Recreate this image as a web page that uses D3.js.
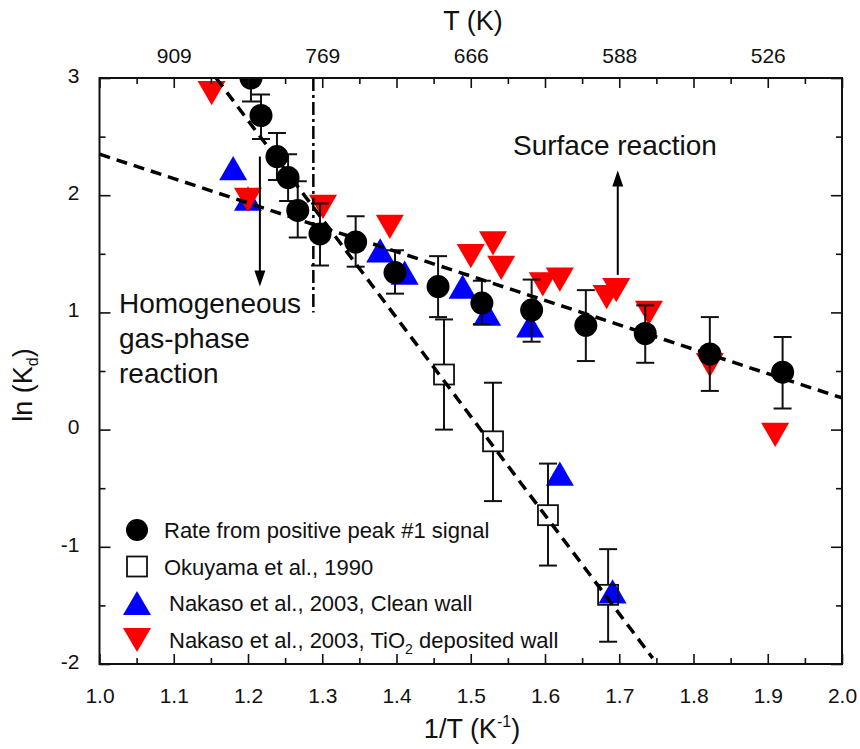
<!DOCTYPE html>
<html><head><meta charset="utf-8">
<script src="https://cdn.jsdelivr.net/npm/d3@7"></script>
<style>
body{margin:0;background:#fff}
text{font-family:"Liberation Sans",Arial,sans-serif;fill:#111}
</style>
</head><body>
<svg id="c" width="860" height="749"></svg>
<script>
// ---- data ----
const rateX  = [1.204,1.2175,1.239,1.254,1.267,1.297,1.345,1.398,1.456,1.515,1.582,1.655,1.735,1.822,1.920];
const rateY  = [3.00, 2.68, 2.33, 2.15, 1.87, 1.67, 1.60, 1.34, 1.22, 1.08, 1.02, 0.89, 0.82, 0.645,0.49];
const rateHi = [3.20, 2.86, 2.53, 2.35, 2.12, 1.93, 1.82, 1.53, 1.48, 1.27, 1.28, 1.19, 1.06, 0.96, 0.79];
const rateLo = [2.80, 2.48, 2.13, 1.95, 1.64, 1.40, 1.39, 1.16, 0.96, 0.90, 0.75, 0.585,0.57, 0.33, 0.18];

const okuX  = [1.464, 1.530, 1.604, 1.685];
const okuY  = [0.47, -0.10, -0.73, -1.41];
const okuHi = [0.94,  0.40, -0.29, -1.02];
const okuLo = [0.00, -0.61, -1.16, -1.81];

const cleanX = [1.180, 1.200, 1.378, 1.411, 1.489, 1.522, 1.580, 1.620, 1.691];
const cleanY = [2.23,  1.97,  1.53,  1.34,  1.22,  0.99,  0.89, -0.375, -1.38];

const tioX = [1.151, 1.200, 1.301, 1.391, 1.500, 1.530, 1.541, 1.597, 1.620, 1.683, 1.696, 1.740, 1.822, 1.910];
const tioY = [2.87,  1.96,  1.90,  1.73,  1.48,  1.59,  1.38,  1.24,  1.28,  1.13,  1.19,  0.995, 0.55, -0.045];

const surfaceFit = [[1.0, 2.35], [2.0, 0.27]];
const gasFit     = [[1.157, 3.0], [1.745, -1.95]];
const boundaryX  = 1.288, boundaryY = [3.0, 1.0];

const xMajor = [1.0,1.1,1.2,1.3,1.4,1.5,1.6,1.7,1.8,1.9,2.0];
const xMinor = [1.05,1.15,1.25,1.35,1.45,1.55,1.65,1.75,1.85,1.95];
const yMajor = [-2,-1,0,1,2,3];
const yMinor = [-1.5,-0.5,0.5,1.5,2.5];
const topTickPos = [1.1,1.3,1.5,1.7,1.9];
const topTickLabels = ["909","769","666","588","526"];

const legendLabels = ["Rate from positive peak #1 signal","Okuyama et al., 1990","Nakaso et al., 2003, Clean wall","Nakaso et al., 2003, TiO"];

// annotations (data coords)
const downArrow = {x:1.216, y0:2.33, y1:1.22};
const upArrow   = {x:1.698, y0:1.32, y1:2.21};

// ---- chart ----
const svg = d3.select("#c");
const L=99.5, R=842, T=78, B=664;
const x = d3.scaleLinear([1,2],[L,R]);
const y = d3.scaleLinear([-2,3],[B,T]);

svg.append("clipPath").attr("id","clip").append("rect")
  .attr("x",L).attr("y",T).attr("width",R-L).attr("height",B-T);

const gPlot = svg.append("g").attr("clip-path","url(#clip)");

const triUp = (s)=>{const h=s*Math.sqrt(3)/2;return `M0,${-h/2}L${s/2},${h/2}L${-s/2},${h/2}Z`;};
const triDown = (s)=>{const h=s*Math.sqrt(3)/2;return `M0,${h/2}L${s/2},${-h/2}L${-s/2},${-h/2}Z`;};
const TRI=28, CR=11.5, SQ=20;

// blue triangles
gPlot.selectAll(".cl").data(cleanX).join("path")
  .attr("d",triUp(TRI)).attr("fill","#0000ff")
  .attr("transform",(d,i)=>`translate(${x(d)},${y(cleanY[i])})`);
// red triangles
gPlot.selectAll(".ti").data(tioX).join("path")
  .attr("d",triDown(TRI)).attr("fill","#ff0000")
  .attr("transform",(d,i)=>`translate(${x(d)},${y(tioY[i])})`);

function errBars(g, xs, ys, hi, lo, gap){
  xs.forEach((xv,i)=>{
    const px=x(xv), py=y(ys[i]), ph=y(hi[i]), pl=y(lo[i]);
    const segs=[[ph,py-gap],[py+gap,pl]];
    segs.forEach(s=>{ if(s[1]>s[0]) g.append("line").attr("x1",px).attr("x2",px).attr("y1",s[0]).attr("y2",s[1]).attr("stroke","#111").attr("stroke-width",2);});
    [ph,pl].forEach(c=>g.append("line").attr("x1",px-9).attr("x2",px+9).attr("y1",c).attr("y2",c).attr("stroke","#111").attr("stroke-width",2));
  });
}
errBars(gPlot, rateX, rateY, rateHi, rateLo, 0);
gPlot.selectAll(".rt").data(rateX).join("circle")
  .attr("cx",d=>x(d)).attr("cy",(d,i)=>y(rateY[i])).attr("r",CR).attr("fill","#000");

errBars(gPlot, okuX, okuY, okuHi, okuLo, SQ/2);
gPlot.selectAll(".ok").data(okuX).join("rect")
  .attr("x",d=>x(d)-SQ/2).attr("y",(d,i)=>y(okuY[i])-SQ/2).attr("width",SQ).attr("height",SQ)
  .attr("fill","none").attr("stroke","#111").attr("stroke-width",1.8);

// fits
const line = d3.line().x(d=>x(d[0])).y(d=>y(d[1]));
[surfaceFit, gasFit].forEach(f=>gPlot.append("path").attr("d",line(f))
  .attr("fill","none").attr("stroke","#000").attr("stroke-width",3.5).attr("stroke-dasharray","11,7"));
gPlot.append("line").attr("x1",x(boundaryX)).attr("x2",x(boundaryX))
  .attr("y1",y(boundaryY[0])).attr("y2",y(boundaryY[1]))
  .attr("stroke","#000").attr("stroke-width",2.5).attr("stroke-dasharray","13,4,3,4");

// arrows
function arrow(a){
  const px=x(a.x), p0=y(a.y0), p1=y(a.y1);
  const dir = p1>p0?1:-1, hl=16, hw=5.5;
  svg.append("line").attr("x1",px).attr("x2",px).attr("y1",p0).attr("y2",p1-dir*hl+dir*2)
    .attr("stroke","#000").attr("stroke-width",2);
  svg.append("path").attr("d",`M${px},${p1}L${px-hw},${p1-dir*hl}L${px+hw},${p1-dir*hl}Z`).attr("fill","#000");
}
arrow(downArrow); arrow(upArrow);

// frame
svg.append("rect").attr("x",L).attr("y",T).attr("width",R-L).attr("height",B-T)
  .attr("fill","none").attr("stroke","#111").attr("stroke-width",2);

// axes
function styleAxis(g){ g.select(".domain").remove(); g.selectAll("line").attr("stroke","#111").attr("stroke-width",1.6); g.selectAll("text").attr("fill","#111"); }
svg.append("g").attr("transform",`translate(0,${B})`)
  .call(d3.axisBottom(x).tickValues(xMajor).tickSize(-10).tickPadding(24).tickFormat(d3.format(".1f")))
  .call(styleAxis).selectAll("text").style("font-size","21px").attr("dy","0.71em");
svg.append("g").attr("transform",`translate(0,${B})`)
  .call(d3.axisBottom(x).tickValues(xMinor).tickSize(-6).tickFormat("")).call(styleAxis);
svg.append("g").attr("transform",`translate(0,${T})`)
  .call(d3.axisTop(x).tickValues(xMajor).tickSize(-10).tickFormat("")).call(styleAxis);
svg.append("g").attr("transform",`translate(0,${T})`)
  .call(d3.axisTop(x).tickValues(xMinor).tickSize(-6).tickFormat("")).call(styleAxis);
svg.append("g").attr("transform",`translate(0,${T})`)
  .call(d3.axisTop(x).tickValues(topTickPos).tickSize(0).tickPadding(15).tickFormat((d,i)=>topTickLabels[i]))
  .call(styleAxis).selectAll("text").style("font-size","21px");
svg.append("g").attr("transform",`translate(${L},0)`)
  .call(d3.axisLeft(y).tickValues(yMajor).tickSize(-11).tickPadding(20).tickFormat(d=>String(d)))
  .call(styleAxis).selectAll("text").style("font-size","21px").attr("dy","0.2em");
svg.append("g").attr("transform",`translate(${L},0)`)
  .call(d3.axisLeft(y).tickValues(yMinor).tickSize(-6).tickFormat("")).call(styleAxis);
svg.append("g").attr("transform",`translate(${R},0)`)
  .call(d3.axisRight(y).tickValues(yMajor).tickSize(-11).tickFormat("")).call(styleAxis);
svg.append("g").attr("transform",`translate(${R},0)`)
  .call(d3.axisRight(y).tickValues(yMinor).tickSize(-6).tickFormat("")).call(styleAxis);

// titles
svg.append("text").attr("x",473).attr("y",30).attr("text-anchor","middle").style("font-size","27px").text("T (K)");
const xt = svg.append("text").attr("x",472).attr("y",738).attr("text-anchor","middle").style("font-size","27px");
xt.append("tspan").text("1/T (K");
xt.append("tspan").text("-1").style("font-size","16px").attr("dy",-11);
xt.append("tspan").text(")").attr("dy",11);
const yt = svg.append("text").attr("transform","translate(32,385) rotate(-90)").attr("text-anchor","middle").style("font-size","27px");
yt.append("tspan").text("ln (K");
yt.append("tspan").text("d").style("font-size","16px").attr("dy",6);
yt.append("tspan").text(")").attr("dy",-6);

// annotations
svg.append("text").attr("x",513).attr("y",155).style("font-size","28px").text("Surface reaction");
["Homogeneous","gas-phase","reaction"].forEach((t,i)=>
  svg.append("text").attr("x",119).attr("y",313+i*35).style("font-size","28px").text(t));

// legend
const legY=[530,566.5,603,640], legMX=137, legTX=[164,164,169,169];
svg.append("circle").attr("cx",legMX).attr("cy",legY[0]).attr("r",11).attr("fill","#000");
svg.append("rect").attr("x",legMX-SQ/2).attr("y",legY[1]-SQ/2).attr("width",SQ).attr("height",SQ).attr("fill","none").attr("stroke","#111").attr("stroke-width",1.8);
svg.append("path").attr("d",triUp(TRI)).attr("fill","#0000ff").attr("transform",`translate(${legMX},${legY[2]})`);
svg.append("path").attr("d",triDown(TRI)).attr("fill","#ff0000").attr("transform",`translate(${legMX},${legY[3]})`);
legendLabels.forEach((t,i)=>{
  const tx=svg.append("text").attr("x",legTX[i]).attr("y",legY[i]+8).style("font-size","22px").text(t);
  if(i===3){
    tx.append("tspan").text("2").style("font-size","14px").attr("dy",6);
    tx.append("tspan").text(" deposited wall").attr("dy",-6);
  }
});
</script>
</body></html>
